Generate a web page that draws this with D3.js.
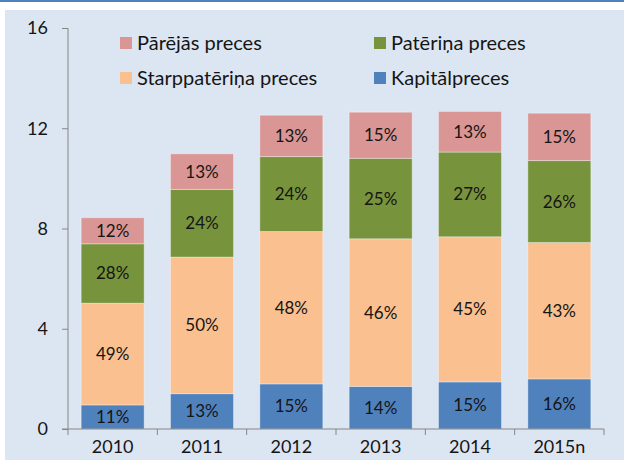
<!DOCTYPE html>
<html>
<head>
<meta charset="utf-8">
<script src="https://cdn.jsdelivr.net/npm/d3@7"></script>
<style>
  body { margin: 0; background: #ffffff; }
  svg text { font-family: Lato, "Open Sans", sans-serif; fill: #151515; }
</style>
</head>
<body>
<svg width="624" height="460"></svg>
<script>
// Chart data
var years = ["2010", "2011", "2012", "2013", "2014", "2015n"];
var seriesNames = ["Kapitālpreces", "Starppatēriņa preces", "Patēriņa preces", "Pārējās preces"];
var kapital = [0.96, 1.41, 1.80, 1.70, 1.88, 2.00];
var starp = [4.06, 5.45, 6.08, 5.89, 5.79, 5.44];
var pateri = [2.37, 2.70, 2.99, 3.21, 3.38, 3.27];
var parejas = [1.04, 1.42, 1.65, 1.84, 1.62, 1.89];
var kapitalLbl = ["11%", "13%", "15%", "14%", "15%", "16%"];
var starpLbl = ["49%", "50%", "48%", "46%", "45%", "43%"];
var pateriLbl = ["28%", "24%", "24%", "25%", "27%", "26%"];
var parejasLbl = ["12%", "13%", "13%", "15%", "13%", "15%"];
var yTicks = [0, 4, 8, 12, 16];

var colors = ["#4f81bd", "#fac090", "#77933c", "#d99694"];

var svg = d3.select("svg");

// Background frame
svg.append("rect").attr("x", 0).attr("y", 0).attr("width", 624).attr("height", 2).attr("fill", "#4f81bd");
svg.append("rect").attr("x", 5).attr("y", 10).attr("width", 619).attr("height", 450).attr("fill", "#dce6f2");

var x0 = 68, x1 = 604;
var yTop = 28, yBottom = 429;

var xScale = d3.scaleBand().domain(years).range([x0, x1]).paddingInner(0.295).paddingOuter(0.1475);
var yScale = d3.scaleLinear().domain([0, 16]).range([yBottom, yTop]);

// Build table for stacking
var table = years.map(function(y, i) {
    return {year: y, k: kapital[i], s: starp[i], p: pateri[i], r: parejas[i],
            lbl: [kapitalLbl[i], starpLbl[i], pateriLbl[i], parejasLbl[i]]};
});
var stack = d3.stack().keys(["k", "s", "p", "r"]);
var layers = stack(table);

var barsG = svg.append("g");
layers.forEach(function(layer, li) {
    var g = barsG.append("g").attr("class", seriesNames[li]);
    g.selectAll("rect")
        .data(layer)
        .enter()
        .append("rect")
        .attr("x", function(d) { return xScale(d.data.year); })
        .attr("y", function(d) { return yScale(d[1]); })
        .attr("width", xScale.bandwidth())
        .attr("height", function(d) { return yScale(d[0]) - yScale(d[1]); })
        .attr("fill", colors[li])
        .attr("stroke", "rgba(255,255,255,0.35)")
        .attr("stroke-width", 1);
    g.selectAll("text")
        .data(layer)
        .enter()
        .append("text")
        .attr("x", function(d) { return xScale(d.data.year) + xScale.bandwidth() / 2; })
        .attr("y", function(d) { return (yScale(d[0]) + yScale(d[1])) / 2; })
        .attr("dy", "0.35em")
        .attr("text-anchor", "middle")
        .style("font-size", "17px")
        .text(function(d) { return d.data.lbl[li]; });
});

// Axes
var axisColor = "#868686";
var yAxisG = svg.append("g").attr("transform", "translate(" + x0 + ",0)")
    .call(d3.axisLeft(yScale).tickValues(yTicks).tickSize(6).tickPadding(14));
yAxisG.select(".domain").attr("stroke", axisColor).attr("d", "M0," + yTop + "V" + yBottom);
yAxisG.selectAll(".tick line").attr("stroke", axisColor);
yAxisG.selectAll(".tick text").style("font-size", "18px").style("font-family", "Lato, sans-serif").attr("fill", "#151515");

var xBound = d3.scaleLinear().domain([0, years.length]).range([x0, x1]);
var xAxisG = svg.append("g").attr("transform", "translate(0," + yBottom + ")");
xAxisG.append("line").attr("x1", x0 - 6).attr("x2", x1).attr("stroke", axisColor);
xAxisG.selectAll(".xtick")
    .data(d3.range(years.length + 1))
    .enter()
    .append("line")
    .attr("x1", function(d) { return xBound(d); })
    .attr("x2", function(d) { return xBound(d); })
    .attr("y1", 0).attr("y2", 6)
    .attr("stroke", axisColor);
xAxisG.selectAll(".xlabel")
    .data(years)
    .enter()
    .append("text")
    .attr("x", function(d) { return xScale(d) + xScale.bandwidth() / 2; })
    .attr("y", 24)
    .attr("text-anchor", "middle")
    .style("font-size", "18px")
    .text(function(d) { return d; });

// Legend
var legendItems = [
    {name: seriesNames[3], color: colors[3], x: 120, y: 37},
    {name: seriesNames[2], color: colors[2], x: 374, y: 37},
    {name: seriesNames[1], color: colors[1], x: 120, y: 72},
    {name: seriesNames[0], color: colors[0], x: 374, y: 72}
];
var legendG = svg.append("g");
legendItems.forEach(function(item) {
    legendG.append("rect").attr("x", item.x).attr("y", item.y).attr("width", 12).attr("height", 12).attr("fill", item.color);
    legendG.append("text").attr("x", item.x + 17).attr("y", item.y + 6).attr("dy", "0.35em")
        .style("font-size", "20px").text(item.name);
});
</script>
</body>
</html>
